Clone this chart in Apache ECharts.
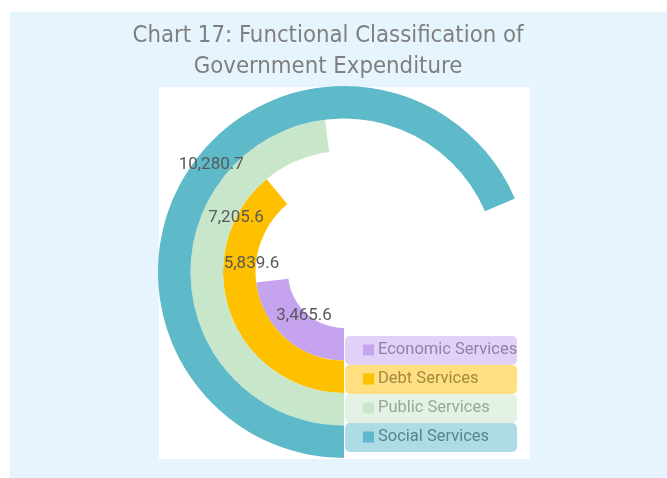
<!DOCTYPE html>
<html>
<head>
<meta charset="utf-8">
<script src="https://cdn.jsdelivr.net/npm/echarts@6/dist/echarts.min.js"></script>
<style>
html, body { margin: 0; padding: 0; background: #fff; }
.outer { position: absolute; left: 10px; top: 12px; right: 0; bottom: 0; background: #E6F5FD; }
.inner { position: absolute; left: 159px; top: 87px; width: 371px; height: 372px; background: #fff; }
#chart { position: absolute; left: 0; top: 0; width: 667px; height: 478px; }
</style>
</head>
<body>
<div class="outer"></div>
<div class="inner"></div>
<div id="chart"></div>
<script>
// inner ring -> outer ring
const categories = ['Economic Services', 'Debt Services', 'Public Services', 'Social Services'];
const values = [3465.6, 5839.6, 7205.6, 10280.7];
const colors = ['#C5A3EF', '#FFC000', '#C8E6C9', '#5EB9C9'];
const legendBg = ['rgba(197,163,239,0.5)', 'rgba(255,192,0,0.5)', 'rgba(200,230,201,0.5)', 'rgba(94,185,201,0.5)'];
const legendText = ['#8f82a8', '#a08a40', '#98a898', '#56858d'];
// nudge each value label from the middle of its ring
const labelOffsets = [[8, -10], [6, -44], [29, -63], [9, -14]];

const fmt = v => v.toLocaleString('en-US', { minimumFractionDigits: 1, maximumFractionDigits: 1 });

const chart = echarts.init(document.getElementById('chart'));

const rich = { t: { fontSize: 16.5, lineHeight: 18, padding: [0, 0, 0, 4] } };
categories.forEach((c, i) => {
    rich['i' + i] = { width: 11, height: 11, backgroundColor: colors[i] };
});

chart.setOption({
    animation: false,
    title: {
        text: 'Chart 17: Functional Classification of\nGovernment Expenditure',
        left: 323,
        top: 15,
        textAlign: 'center',
        textStyle: {
            color: '#7F7F7F',
            fontFamily: 'DejaVu Sans Condensed',
            fontWeight: 'normal',
            fontSize: 23.7,
            lineHeight: 31
        }
    },
    polar: {
        center: [344, 272],
        radius: [56, 186]
    },
    angleAxis: {
        max: 15000,
        startAngle: 270,
        clockwise: true,
        show: false
    },
    radiusAxis: {
        type: 'category',
        data: categories,
        show: false
    },
    legend: {
        orient: 'vertical',
        left: 335,
        top: 331,
        itemGap: 0,
        itemWidth: 0,
        icon: 'none',
        data: categories.map((c, i) => ({
            name: c,
            textStyle: {
                backgroundColor: legendBg[i],
                borderRadius: 5,
                padding: [5, 0, 6, 18],
                width: 154,
                color: legendText[i]
            }
        })),
        formatter: name => '{i' + categories.indexOf(name) + '|}{t|' + name + '}',
        textStyle: { fontFamily: 'Roboto', rich: rich }
    },
    series: categories.map((name, i) => ({
        name: name,
        type: 'bar',
        coordinateSystem: 'polar',
        stack: 'all',
        barCategoryGap: '0%',
        data: categories.map((c, j) => j === i ? values[i] : '-'),
        itemStyle: { color: colors[i] },
        label: {
            show: true,
            position: 'middle',
            rotate: 0,
            offset: labelOffsets[i],
            color: '#595959',
            fontFamily: 'Roboto',
            fontSize: 17,
            formatter: p => fmt(p.value)
        }
    }))
});
</script>
</body>
</html>
